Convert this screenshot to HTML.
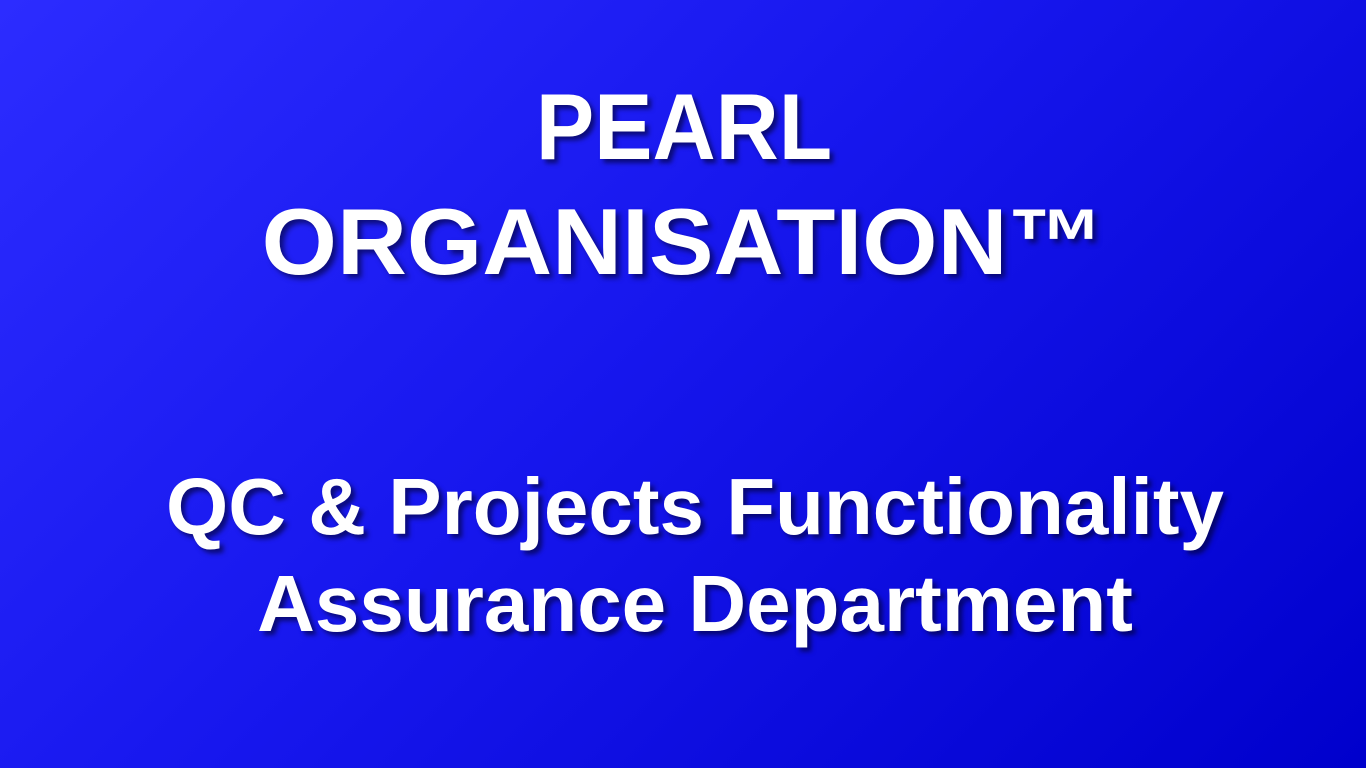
<!DOCTYPE html>
<html>
<head>
<meta charset="utf-8">
<style>
html,body{margin:0;padding:0;}
body{width:1366px;height:768px;overflow:hidden;position:relative;
background:linear-gradient(135deg,#2c2cff 0%,#1717ee 45%,#0000cc 100%);
font-family:"Liberation Sans",sans-serif;font-weight:bold;color:#fff;}
.line{position:absolute;left:0;white-space:nowrap;line-height:1;
text-shadow:4px 4px 5px rgba(0,0,40,0.6);}
.l1{font-size:94px;top:80px;left:684px;transform:translateX(-50%) scaleX(0.93);}
.l2{font-size:94px;top:195px;left:683px;transform:translateX(-50%) scaleX(1.03);}
.l3{font-size:80px;top:467px;left:695px;transform:translateX(-50%);}
.l4{font-size:80px;top:564px;left:695px;transform:translateX(-50%);}
</style>
</head>
<body>
<div class="line l1">PEARL</div>
<div class="line l2">ORGANISATION™</div>
<div class="line l3">QC &amp; Projects Functionality</div>
<div class="line l4">Assurance Department</div>
</body>
</html>
